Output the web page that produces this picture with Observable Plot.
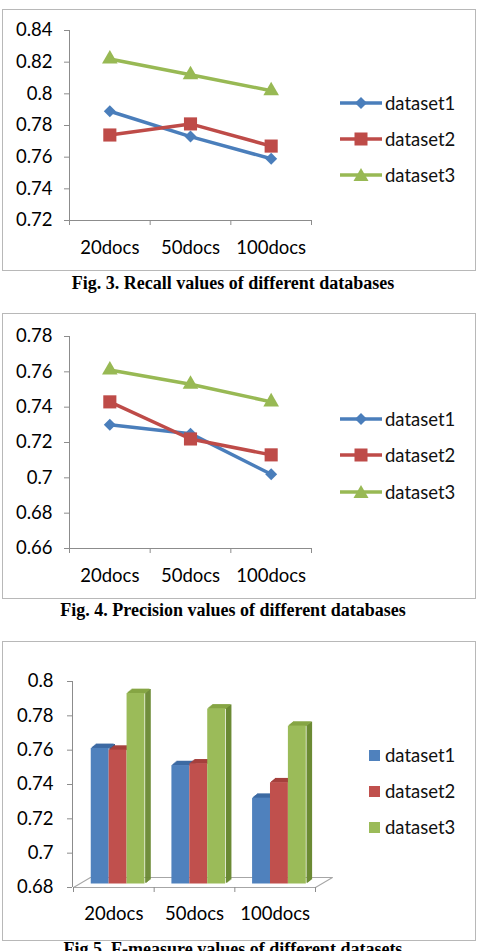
<!DOCTYPE html>
<html>
<head>
<meta charset="utf-8">
<script src="https://cdn.jsdelivr.net/npm/d3@7"></script>
<script src="https://cdn.jsdelivr.net/npm/@observablehq/plot@0.6"></script>
<style>
  html, body { margin: 0; padding: 0; background: #fff; }
  #page { position: relative; width: 483px; height: 951px; overflow: hidden; background: #fff; }
  .frame { position: absolute; box-sizing: border-box; border: 1px solid #b8b8b8; }
  .chart { position: absolute; }
  .caption { position: absolute; left: 0; width: 466px; text-align: center;
             font-family: "Liberation Serif", "Times New Roman", serif; font-weight: bold;
             font-size: 18px; line-height: 20px; color: #000; white-space: nowrap; }
  .legend-row { position: absolute; display: flex; align-items: center; height: 24px;
                font-family: Lato, "Liberation Sans", sans-serif; font-size: 18.5px; color: #111; }
  .legend-row svg { display: block; }
</style>
</head>
<body>
<div id="page"></div>
<script>
// ---------------- data ----------------
const categories = ["20docs", "50docs", "100docs"];
const seriesNames = ["dataset1", "dataset2", "dataset3"];

const recallDataset1 = [0.789, 0.773, 0.759];
const recallDataset2 = [0.774, 0.781, 0.767];
const recallDataset3 = [0.822, 0.812, 0.802];
const recallTicks = [0.72, 0.74, 0.76, 0.78, 0.80, 0.82, 0.84];

const precisionDataset1 = [0.730, 0.725, 0.702];
const precisionDataset2 = [0.743, 0.722, 0.713];
const precisionDataset3 = [0.761, 0.753, 0.743];
const precisionTicks = [0.66, 0.68, 0.70, 0.72, 0.74, 0.76, 0.78];

const fmeasureDataset1 = [0.759, 0.749, 0.730];
const fmeasureDataset2 = [0.758, 0.750, 0.739];
const fmeasureDataset3 = [0.791, 0.782, 0.772];
const fmeasureTicks = [0.68, 0.70, 0.72, 0.74, 0.76, 0.78, 0.80];

const captions = [
  "Fig. 3. Recall values of different databases",
  "Fig. 4. Precision values of different databases",
  "Fig 5. F-measure values of different datasets"
];

// ---------------- styles ----------------
const lineColors = ["#4a7ebb", "#be4b48", "#98b954"];
const barFront = ["#4f81bd", "#c0504d", "#9bbb59"];
const barTop = ["#3d6aa3", "#a5403d", "#86a544"];
const barSide = ["#335a8c", "#8c3431", "#6b8a34"];
const axisGrey = "#8c8c8c";
const floorGrey = "#a6a6a6";
const FONT = "Lato, 'Liberation Sans', sans-serif";
const FS = "18.5px";
const fmt = d => String(+d.toFixed(2));

const page = document.getElementById("page");

function place(el, left, top) {
  el.style.left = left + "px";
  el.style.top = top + "px";
  page.appendChild(el);
}
function frame(left, top, w, h) {
  const d = document.createElement("div");
  d.className = "frame";
  d.style.width = w + "px";
  d.style.height = h + "px";
  place(d, left, top);
}
function caption(text, top) {
  const d = document.createElement("div");
  d.className = "caption";
  d.textContent = text;
  place(d, 0, top);
}
function lineLegend(left, rowsY) {
  const shapes = [
    c => `<polygon points="21,5 27,11 21,17 15,11" fill="${c}"/>`,
    c => `<rect x="14.5" y="4.5" width="13" height="13" fill="${c}"/>`,
    c => `<polygon points="21,4 28.5,17 13.5,17" fill="${c}"/>`
  ];
  seriesNames.forEach((name, s) => {
    const row = document.createElement("div");
    row.className = "legend-row";
    row.innerHTML = `<svg width="43" height="22"><line x1="0" y1="11" x2="42" y2="11" stroke="${lineColors[s]}" stroke-width="3.5"/>${shapes[s](lineColors[s])}</svg><span style="margin-left:2px">${name}</span>`;
    place(row, left, rowsY[s] - 12);
  });
}
function barLegend(left, rowsY) {
  seriesNames.forEach((name, s) => {
    const row = document.createElement("div");
    row.className = "legend-row";
    row.innerHTML = `<svg width="11" height="11"><rect x="0" y="0" width="11" height="11" fill="${barFront[s]}"/></svg><span style="margin-left:5px">${name}</span>`;
    place(row, left, rowsY[s] - 12);
  });
}

function lineChart({series, ticks, height, marginTop, marginBottom}) {
  const n = categories.length;
  const y0 = ticks[0], y1 = ticks[ticks.length - 1];
  const rows = series.flatMap((vals, s) => vals.map((v, i) => ({i, s: seriesNames[s], v})));
  const symbols = ["diamond2", "square", "triangle"];
  const radii = [5.4, 7.4, 5.8];
  return Plot.plot({
    width: 330, height,
    marginLeft: 69, marginRight: 19, marginTop, marginBottom,
    x: {type: "linear", domain: [0, n], axis: null, label: null},
    y: {domain: [y0, y1], axis: null, label: null},
    style: {fontFamily: FONT, fontSize: FS, color: "#000", background: "transparent"},
    marks: [
      Plot.ruleX([0], {stroke: axisGrey}),
      Plot.ruleY([y0], {stroke: axisGrey}),
      Plot.axisY({ticks, tickSize: 5, tickPadding: 12, stroke: axisGrey, fill: "#000", tickFormat: fmt, label: null}),
      Plot.axisX({ticks: d3.range(n + 1), tickSize: 5, tickFormat: () => "", stroke: axisGrey, label: null}),
      Plot.axisX({ticks: d3.range(n).map(i => i + 0.5), tickSize: 0, tickPadding: 20, fill: "#000",
                  tickFormat: d => categories[Math.floor(d)], label: null}),
      Plot.line(rows, {x: d => d.i + 0.5, y: "v", z: "s", stroke: d => lineColors[seriesNames.indexOf(d.s)], strokeWidth: 3.5}),
      ...seriesNames.map((name, s) =>
        Plot.dot(rows.filter(d => d.s === name), {x: d => d.i + 0.5, y: "v", symbol: () => symbols[s],
          r: radii[s], fill: lineColors[s], stroke: "none"}))
    ]
  });
}

function barChart({series, ticks, height, marginTop, marginBottom}) {
  const n = categories.length;
  const y0 = ticks[0], y1 = ticks[ticks.length - 1];
  const bw = 0.222, off = 0.22;   // group layout as fractions of a category slot
  const lift = -3.5;              // bars sit slightly behind the front edge of the floor
  const depth = 5;
  const barMarks = [];
  series.forEach((vals, s) => {
    const rows = vals.map((v, i) => ({i, v}));
    const xa = d => d.i + off + s * bw;
    const xb = d => d.i + off + (s + 1) * bw;
    for (let k = 1; k <= depth; k++) {
      barMarks.push(Plot.ruleX(rows, {x: xb, y1: y0, y2: "v", stroke: barSide[s], strokeWidth: 1.6,
        dx: k, dy: lift - k * 0.8}));
    }
    for (let k = 1; k <= depth; k++) {
      barMarks.push(Plot.ruleY(rows, {y: "v", x1: xa, x2: xb, stroke: barTop[s], strokeWidth: 1.6,
        dx: k, dy: lift - k * 0.8}));
    }
    barMarks.push(Plot.rectY(rows, {x1: xa, x2: xb, y1: y0, y2: "v", fill: barFront[s], dy: lift}));
  });
  const seg = {draw(context, l) { context.moveTo(0, 0); context.lineTo(0, -l); }};
  return Plot.plot({
    width: 345, height,
    marginLeft: 73, marginRight: 30, marginTop, marginBottom,
    x: {type: "linear", domain: [0, n], axis: null, label: null},
    y: {domain: [y0, y1], axis: null, label: null},
    style: {fontFamily: FONT, fontSize: FS, color: "#000", background: "transparent", overflow: "visible"},
    marks: [
      Plot.ruleY([y0], {x1: 0, x2: n, dx: 17, dy: -10, stroke: floorGrey}),
      Plot.vector([0, n], {x: d => d, y: y0, length: 19.7, rotate: 59.5, anchor: "start",
        stroke: floorGrey, strokeWidth: 1, shape: seg}),
      Plot.ruleY([y0], {x1: 0, x2: n, stroke: floorGrey}),
      Plot.ruleX([0], {y1: y0, y2: y1, stroke: axisGrey, dx: -1}),
      Plot.axisY({ticks, tickSize: 5, tickPadding: 14, stroke: axisGrey, fill: "#000", tickFormat: fmt, label: null, dx: -1}),
      Plot.axisX({ticks: d3.range(n + 1), tickSize: 5, tickFormat: () => "", stroke: axisGrey, label: null}),
      Plot.axisX({ticks: d3.range(n).map(i => i + 0.5), tickSize: 0, tickPadding: 19, fill: "#000",
                  tickFormat: d => categories[Math.floor(d)], label: null}),
      ...barMarks
    ]
  });
}

// ---------------- chart 1: recall ----------------
frame(2, 9, 474, 262);
const c1 = lineChart({series: [recallDataset1, recallDataset2, recallDataset3], ticks: recallTicks,
  height: 260, marginTop: 20, marginBottom: 50});
c1.classList.add("chart");
place(c1, 0, 10);
lineLegend(340, [103, 139, 175]);
caption(captions[0], 273);

// ---------------- chart 2: precision ----------------
frame(2, 313, 474, 286);
const c2 = lineChart({series: [precisionDataset1, precisionDataset2, precisionDataset3], ticks: precisionTicks,
  height: 285, marginTop: 23, marginBottom: 50});
c2.classList.add("chart");
place(c2, 0, 313);
lineLegend(340, [419, 455, 492]);
caption(captions[1], 600);

// ---------------- chart 3: F-measure ----------------
frame(2, 641, 474, 300);
const c3 = barChart({series: [fmeasureDataset1, fmeasureDataset2, fmeasureDataset3], ticks: fmeasureTicks,
  height: 298, marginTop: 39, marginBottom: 53});
c3.classList.add("chart");
place(c3, 0, 642);
barLegend(369, [755, 791, 827]);
caption(captions[2], 939);
</script>
</body>
</html>
